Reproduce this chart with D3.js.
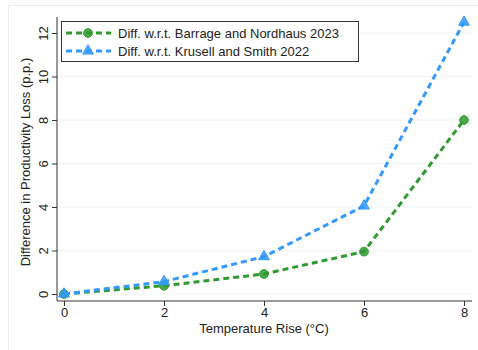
<!DOCTYPE html>
<meta charset="utf-8">
<script src="https://d3js.org/d3.v7.min.js"></script>
<style>
	body{
		margin:0;
		background:#fff;
		font-family:'Liberation Sans', Arial, sans-serif;
	}
</style>
<div id="chart"></div>
<script>
	// data
	var temps = [0,2,4,6,8]
	var barrage = [0,0.38,0.92,1.95,8.0]
	var krusell = [0,0.57,1.72,4.05,12.5]
	var seriesNames = ["Diff. w.r.t. Barrage and Nordhaus 2023","Diff. w.r.t. Krusell and Smith 2022"]
	var xTicks = [0,2,4,6,8]
	var yTicks = [0,2,4,6,8,10,12]

	var green = "#2f9a2f"
	var blue = "#3399ff"
	var fs = 13

	var w = 478
	var h = 350
	var svg = d3.select("#chart").append("svg").attr("width",w).attr("height",h)

	// outer frame
	svg.append("rect").attr("x",8.5).attr("y",5.5).attr("width",w+10).attr("height",h+10)
		.attr("fill","none").attr("stroke","#e4eef0").attr("stroke-width",1)

	var xScale = d3.scaleLinear().domain([0,8]).range([64,464])
	var yScale = d3.scaleLinear().domain([0,12]).range([294,33])

	var left = 57
	var bottom = 301
	var right = 472

	// gridlines
	svg.selectAll(".grid").data(yTicks).enter().append("line")
		.attr("x1",left).attr("x2",right)
		.attr("y1",function(d){return yScale(d)}).attr("y2",function(d){return yScale(d)})
		.attr("stroke","#eef4f4").attr("stroke-width",1)

	// y axis
	var yAxis = d3.axisLeft(yScale).tickValues(yTicks).tickSize(5).tickPadding(3)
	var gy = svg.append("g").attr("transform","translate("+left+",0)").call(yAxis)
	gy.select(".domain").remove()
	gy.append("line").attr("x1",0).attr("x2",0).attr("y1",17).attr("y2",bottom).attr("stroke","#333").attr("stroke-width",1)
	gy.selectAll(".tick line").attr("stroke","#333")
	gy.selectAll(".tick text")
		.attr("font-size",fs).attr("fill","#222").attr("font-family","'Liberation Sans', Arial, sans-serif")
		.attr("x",null).attr("dy",null)
		.attr("text-anchor","middle")
		.attr("transform","translate(-14,0) rotate(-90)")
		.attr("dy","0.35em")

	// x axis
	var xAxis = d3.axisBottom(xScale).tickValues(xTicks).tickSize(5).tickPadding(2)
	var gx = svg.append("g").attr("transform","translate(0,"+bottom+")").call(xAxis)
	gx.select(".domain").remove()
	gx.append("line").attr("x1",left).attr("x2",right).attr("y1",0).attr("y2",0).attr("stroke","#333").attr("stroke-width",1)
	gx.selectAll(".tick line").attr("stroke","#333")
	gx.selectAll(".tick text").attr("font-size",fs).attr("fill","#222").attr("font-family","'Liberation Sans', Arial, sans-serif")

	// axis titles
	svg.append("text").text("Temperature Rise (°C)").attr("x",264).attr("y",333)
		.attr("text-anchor","middle").attr("font-size",fs).attr("fill","#222")
	svg.append("text").text("Difference in Productivity Loss (p.p.)")
		.attr("transform","translate(30,162) rotate(-90)")
		.attr("text-anchor","middle").attr("font-size",fs).attr("fill","#222")

	var line = d3.line().x(function(d){return xScale(d[0])}).y(function(d){return yScale(d[1])})

	function drawSeries(vals,color,shape){
		var pts = temps.map(function(t,i){return [t,vals[i]]})
		svg.append("path").datum(pts).attr("d",line)
			.attr("fill","none").attr("stroke",color).attr("stroke-width",3)
			.attr("stroke-dasharray","6,4")
		var sym = d3.symbol().type(shape).size(shape==d3.symbolCircle?60:50)
		svg.selectAll(".m"+color.slice(1)).data(pts).enter().append("path")
			.attr("d",sym)
			.attr("transform",function(d){return "translate("+xScale(d[0])+","+yScale(d[1])+")"})
			.attr("fill",color).attr("fill-opacity",0.85)
			.attr("stroke",color).attr("stroke-width",1)
	}
	drawSeries(barrage,green,d3.symbolCircle)
	drawSeries(krusell,blue,d3.symbolTriangle)

	// legend
	var lg = svg.append("g")
	lg.append("rect").attr("x",61.5).attr("y",21.5).attr("width",297).attr("height",40)
		.attr("fill","#fff").attr("stroke","#333").attr("stroke-width",1)
	var legendItems = [{name:seriesNames[0],color:green,shape:d3.symbolCircle},{name:seriesNames[1],color:blue,shape:d3.symbolTriangle}]
	legendItems.forEach(function(it,i){
		var yy = 33+i*18
		lg.append("line").attr("x1",66).attr("x2",111).attr("y1",yy).attr("y2",yy)
			.attr("stroke",it.color).attr("stroke-width",3).attr("stroke-dasharray","6,4")
		lg.append("path").attr("d",d3.symbol().type(it.shape).size(it.shape==d3.symbolCircle?60:50))
			.attr("transform","translate(88,"+yy+")")
			.attr("fill",it.color).attr("fill-opacity",0.85).attr("stroke",it.color)
		lg.append("text").text(it.name).attr("x",118).attr("y",yy).attr("dy","0.35em")
			.attr("font-size",fs).attr("fill","#222")
	})
</script>
